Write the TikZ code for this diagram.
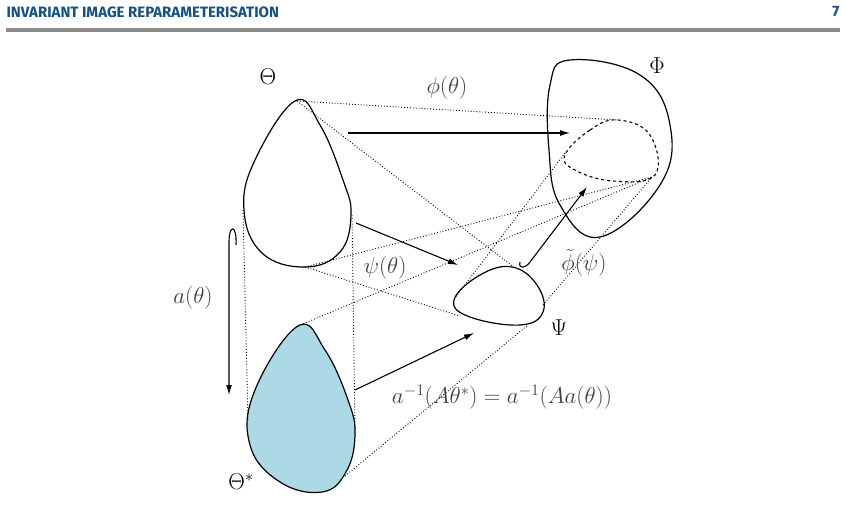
\documentclass[tikz,border=0pt]{standalone}
\usepackage{fix-cm}
\usepackage{fontspec}
\newfontfamily\hdr{Fira Sans}
\usetikzlibrary{arrows.meta}
\definecolor{hblue}{RGB}{20,80,130}
\definecolor{fillb}{RGB}{173,216,230}
\begin{document}
\begin{tikzpicture}[x=1pt,y=-1pt,
  blob/.style={line width=1.2pt},
  dot/.style={dotted,line width=0.9pt},
  arr/.style={-{Latex[length=10pt,width=6pt]},line width=1.1pt},
  big/.style={font=\fontsize{23}{27}\selectfont},
  lbl/.style={text=black!75,big}]
\useasboundingbox (0,0) rectangle (846,517);
\node[anchor=west,text=hblue,font=\hdr\bfseries\fontsize{15}{18}\selectfont] (hd) at (3,12) {INVARIANT IMAGE REPARAMETERISATION};
\node[anchor=east,text=hblue,font=\hdr\bfseries\fontsize{15}{18}\selectfont] (pg) at (843,12) {7};
\fill[black!45] (6,28) rectangle (840,32);
% Theta
\draw[blob] plot[smooth cycle,tension=0.7] coordinates {(295,101) (320,125) (343,180) (351,215) (340,252) (305,267) (262,253) (244,210) (255,160)};
% Theta*
\draw[blob,fill=fillb] plot[smooth cycle,tension=0.7] coordinates {(298,326) (325,350) (348,400) (355,435) (346,472) (322,492) (280,482) (250,445) (255,390)};
% Phi
\draw[blob] plot[smooth cycle,tension=0.7] coordinates {(570,60) (640,75) (670,125) (660,185) (600,237) (560,205) (549,150) (550,85)};
% dashed ellipse
\draw[dashed,line width=1.1pt] plot[smooth cycle,tension=0.7] coordinates {(565,155) (590,130) (618,120) (650,135) (655,175) (613,181) (575,170)};
% Psi
\draw[blob] plot[smooth cycle,tension=0.7] coordinates {(454,300) (480,275) (512,267) (537,285) (543,312) (520,325) (470,317)};
% dotted lines
\coordinate (t1) at (297,101); \coordinate (t2) at (305,267);
\coordinate (e1) at (618,120); \coordinate (e2) at (652,177); \coordinate (e3) at (565,153);
\draw[dot] (t1) -- (e1); \draw[dot] (t1) -- (515,268);
\draw[dot] (t2) -- (e2); \draw[dot] (t2) -- (460,316);
\draw[dot] (298,326) -- (e2);
\draw[dot] (e3) -- (455,298);
\draw[dot] (543,305) -- (e2);
\draw[dot] (345,476) -- (528,325);
\draw[dot] (243,210) -- (248,420);
\draw[dot] (352,215) -- (355,430);
% arrows
\draw[arr] (348,133) -- (570,133);
\draw[arr] (356,223) -- (458,265);
\draw[arr] (355,390) -- (474,333);
\draw[arr] (236,245) .. controls (237,224) and (229,224) .. (229,242) -- (229,395);
\draw[arr] (520,262) .. controls (518,270) and (526,268) .. (530,262) -- (587,187);
% labels
\node[big] (lt) at (268,77) {$\Theta$};
\node[big] (lp) at (657,66) {$\Phi$};
\node[lbl] (l1) at (447,88) {$\phi(\theta)$};
\node[lbl] (l2) at (385,268) {$\psi(\theta)$};
\node[lbl] (l3) at (584,263) {$\tilde\phi(\psi)$};
\node[big] (ls) at (559,328) {$\Psi$};
\node[big] (lts) at (241,482) {$\Theta^*$};
\node[lbl] (l4) at (193,298) {$a(\theta)$};
\node[lbl] (l5) at (502,397) {$a^{-1}(A\theta^*)=a^{-1}(Aa(\theta))$};
\end{tikzpicture}
\end{document}
